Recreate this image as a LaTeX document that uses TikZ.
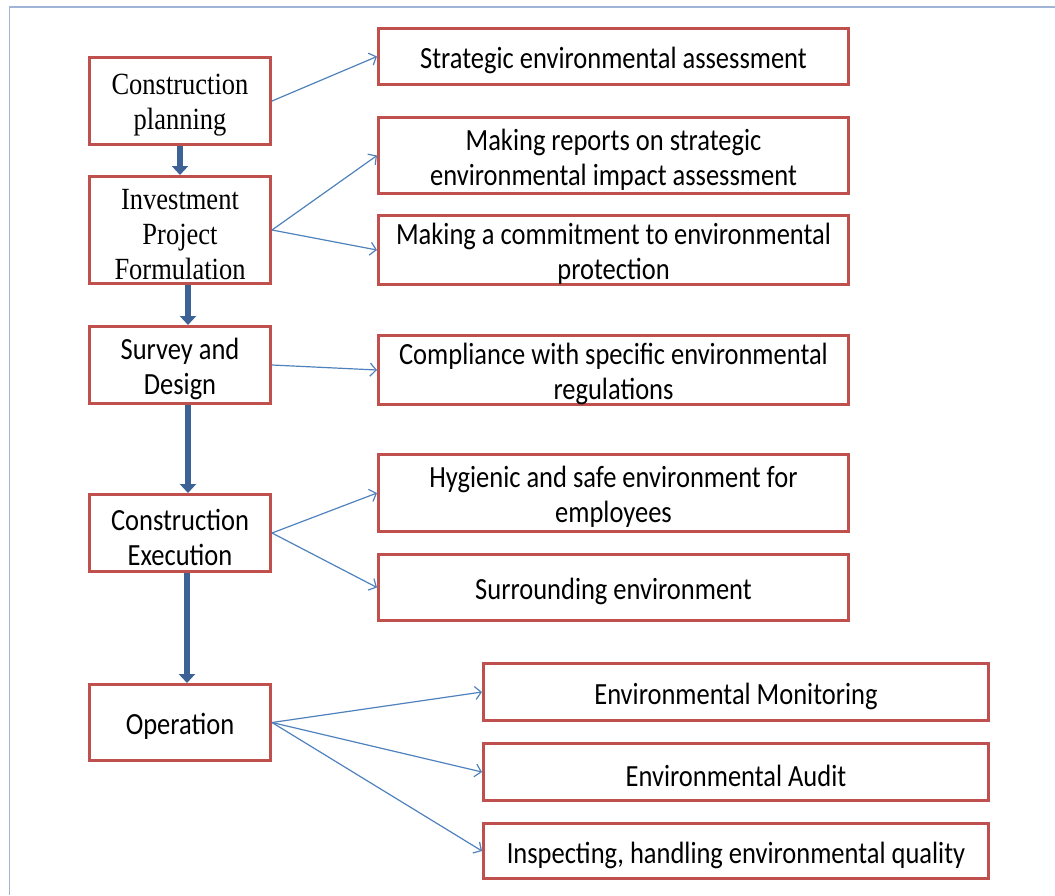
\documentclass[tikz,border=0pt]{standalone}
\usepackage{fontspec}
\setmainfont[FakeStretch=0.86]{Liberation Serif}
\newfontfamily\calibfont[FakeStretch=0.86]{Carlito}
\usepackage{tikz}
\usetikzlibrary{shapes,positioning,backgrounds,calc,arrows.meta}
\definecolor{boxred}{RGB}{192,80,77}
\definecolor{linkblue}{RGB}{79,129,189}
\definecolor{flowblue}{RGB}{60,98,150}
\definecolor{framegray}{RGB}{160,180,215}
\newcommand\lift{\rule{0pt}{29.5pt}}

\begin{document}
\begin{tikzpicture}[x=1pt, y=-1pt,
        stage/.style={rectangle, draw=boxred, line width=3pt, minimum width=181pt, align=center, inner sep=0pt, font=\fontsize{30.8}{35}\selectfont},
        sstage/.style={stage, font=\calibfont\fontsize{30.8}{35}\selectfont},
        task/.style={rectangle, draw=boxred, line width=3pt, minimum width=470pt, align=center, inner sep=0pt, font=\calibfont\fontsize{30.8}{35}\selectfont},
        wtask/.style={task, minimum width=505pt},
        link/.style={draw=linkblue, line width=1.2pt, -{Straight Barb[length=6pt,width=13pt]}},
        flow/.style={draw=flowblue, line width=6pt, -{Triangle[length=9pt,width=16pt]}}]
        \useasboundingbox (0,0) rectangle (1055,895);
        % frame
        \draw [framegray, line width=1.2pt] (9.5,895) -- (9.5,7) -- (1055,7);

        % stages
        \node [stage, minimum height=87pt] (plan) at (180,101) {\lift Construction\\planning};
        \node [stage, minimum height=107pt] (invest) at (180,230) {\lift Investment\\Project\\Formulation};
        \node [sstage, minimum height=77pt] (survey) at (180,365) {\lift Survey and\\Design};
        \node [sstage, minimum height=77pt] (exec) at (180,533) {\lift Construction\\Execution};
        \node [sstage, minimum height=76pt] (oper) at (180,722.5) {\lift Operation};

        % tasks
        \node [task, minimum height=56pt] (sea) at (613.5,56.5) {\lift Strategic environmental assessment};
        \node [task, minimum height=76pt] (report) at (613.5,155.5) {\lift Making reports on strategic\\environmental impact assessment};
        \node [task, minimum height=67pt] (commit) at (613.5,250) {\lift Making a commitment to environmental\\protection};
        \node [task, minimum height=67pt] (comply) at (613.5,370) {\lift Compliance with specific environmental\\regulations};
        \node [task, minimum height=77pt] (hygiene) at (613.5,493) {\lift Hygienic and safe environment for\\employees};
        \node [task, minimum height=66pt] (surround) at (613.5,587.5) {\lift Surrounding environment};
        \node [wtask, minimum height=57pt] (monitor) at (736,692) {\lift Environmental Monitoring};
        \node [wtask, minimum height=57pt] (audit) at (736,772) {\lift Environmental Audit};
        \node [wtask, minimum height=55pt] (inspect) at (736,851) {\lift Inspecting, handling environmental quality};

        % main flow
        \draw [flow] (plan.south) -- (invest.north);
        \draw [flow] ([xshift=8pt]invest.south) -- ([xshift=8pt]survey.north);
        \draw [flow] ([xshift=8pt]survey.south) -- ([xshift=8pt]exec.north);
        \draw [flow] ([xshift=7pt]exec.south) -- ([xshift=7pt]oper.north);

        % links
        \draw [link] (plan.east) -- (sea.west);
        \draw [link] (invest.east) -- (report.west);
        \draw [link] (invest.east) -- (commit.west);
        \draw [link] (survey.east) -- (comply.west);
        \draw [link] (exec.east) -- (hygiene.west);
        \draw [link] (exec.east) -- (surround.west);
        \draw [link] (oper.east) -- (monitor.west);
        \draw [link] (oper.east) -- (audit.west);
        \draw [link] (oper.east) -- (inspect.west);
    \end{tikzpicture}
\end{document}
